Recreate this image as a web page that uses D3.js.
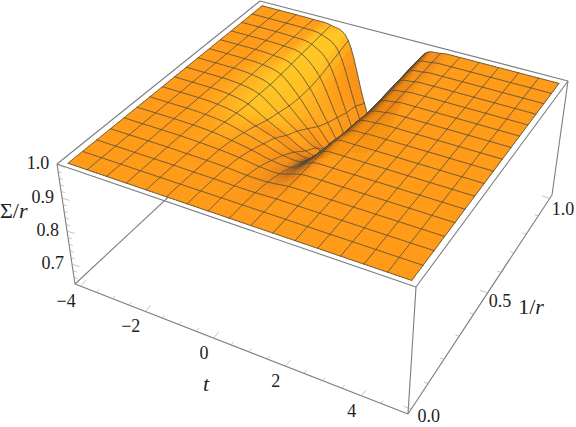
<!DOCTYPE html>
<html>
<head>
<meta charset="utf-8">
<script src="https://cdn.jsdelivr.net/npm/d3@7"></script>
<style>
  html, body { margin: 0; padding: 0; background: #fff; }
  svg { display: block; }
  text { fill: #222; }
</style>
</head>
<body>
<svg id="chart" width="576" height="427" font-family="'Liberation Serif', 'Times New Roman', Times, serif"></svg>
<script>
// mesh lines of the surface
var meshT = [-4, -3.4375, -2.875, -2.3125, -1.75, -1.1875, -0.625, -0.0625, 0.5, 1.0625, 1.625, 2.1875, 2.75, 3.3125, 3.875, 4.4375, 5];
var meshU = [0, 0.0625, 0.125, 0.1875, 0.25, 0.3125, 0.375, 0.4375, 0.5, 0.5625, 0.625, 0.6875, 0.75, 0.8125, 0.875, 0.9375, 1];

// Sigma/r, one row per meshU, one value per meshT
var row00 = [1, 1, 1, 1, 1, 1, 1, 1, 1, 1, 1, 1, 1, 1, 1, 1, 1];
var row01 = [1, 1, 1, 1, 1, 1, 1, 1, 1, 1, 1, 1, 1, 1, 1, 1, 1];
var row02 = [1, 1, 1, 1, 1, 0.999, 0.999, 0.998, 0.998, 1, 1, 1, 1, 1, 1, 1, 1];
var row03 = [1, 1, 1, 1, 0.999, 0.998, 0.996, 0.992, 0.992, 0.999, 1, 1, 1, 1, 1, 1, 1];
var row04 = [1, 1, 1, 1, 0.998, 0.995, 0.99, 0.982, 0.98, 0.998, 1, 1, 1, 1, 1, 1, 1];
var row05 = [1, 1, 1, 0.999, 0.996, 0.988, 0.978, 0.965, 0.963, 0.997, 1, 1, 1, 1, 1, 1, 1];
var row06 = [1, 1, 1, 0.998, 0.992, 0.978, 0.962, 0.945, 0.945, 0.995, 1, 1, 1, 1, 1, 1, 1];
var row07 = [1, 1, 1, 0.997, 0.987, 0.965, 0.945, 0.92, 0.92, 0.993, 1, 1, 1, 1, 1, 1, 1];
var row08 = [1, 1, 1, 0.996, 0.983, 0.95, 0.92, 0.89, 0.89, 0.985, 0.999, 1, 1, 1, 1, 1, 1];
var row09 = [1, 1, 1, 0.996, 0.982, 0.94, 0.9, 0.865, 0.87, 0.98, 0.998, 1, 1, 1, 1, 1, 1];
var row10 = [1, 1, 1, 0.996, 0.98, 0.93, 0.875, 0.825, 0.84, 0.972, 0.997, 1, 1, 1, 1, 1, 1];
var row11 = [1, 1, 1, 0.997, 0.982, 0.925, 0.85, 0.79, 0.82, 0.97, 0.997, 1, 1, 1, 1, 1, 1];
var row12 = [1, 1, 1, 0.997, 0.985, 0.925, 0.83, 0.755, 0.815, 0.97, 0.997, 1, 1, 1, 1, 1, 1];
var row13 = [1, 1, 1, 0.998, 0.988, 0.93, 0.815, 0.72, 0.805, 0.97, 0.997, 1, 1, 1, 1, 1, 1];
var row14 = [1, 1, 1, 0.998, 0.99, 0.94, 0.8, 0.69, 0.8, 0.97, 0.997, 1, 1, 1, 1, 1, 1];
var row15 = [1, 1, 1, 0.999, 0.993, 0.95, 0.79, 0.665, 0.8, 0.97, 0.997, 1, 1, 1, 1, 1, 1];
var row16 = [1, 1, 1, 0.999, 0.995, 0.96, 0.77, 0.64, 0.8, 0.97, 0.997, 1, 1, 1, 1, 1, 1];
var zRows = [row00, row01, row02, row03, row04, row05, row06, row07, row08, row09, row10, row11, row12, row13, row14, row15, row16];

var tMajor = [-4, -2, 0, 2, 4];
var tMinor = [-3.5, -3, -2.5, -1.5, -1, -0.5, 0.5, 1, 1.5, 2.5, 3, 3.5, 4.5];
var uMajor = [0, 0.5, 1];
var uMinor = [0.1, 0.2, 0.3, 0.4, 0.6, 0.7, 0.8, 0.9];
var zMajor = [1, 0.9, 0.8, 0.7];
var zMinor = [0.98, 0.96, 0.94, 0.92, 0.88, 0.86, 0.84, 0.82, 0.78, 0.76, 0.74, 0.72, 0.68, 0.66];

var svg = d3.select("#chart");

var tScale = d3.scaleLinear().domain([-4.18, 5.18]).range([0, 1]);
var uScale = d3.scaleLinear().domain([-0.02, 1.02]).range([0, 1]);
var zScale = d3.scaleLinear().domain([0.64, 1.003]).range([0, 1]);

// unit square to quad, corners are (0,0) (1,0) (1,1) (0,1)
function quadMap(p0, p1, p2, p3) {
  var dx1 = p1[0] - p2[0], dx2 = p3[0] - p2[0], sx = p0[0] - p1[0] + p2[0] - p3[0];
  var dy1 = p1[1] - p2[1], dy2 = p3[1] - p2[1], sy = p0[1] - p1[1] + p2[1] - p3[1];
  var det = dx1 * dy2 - dx2 * dy1;
  var g = (sx * dy2 - dx2 * sy) / det;
  var h = (dx1 * sy - sx * dy1) / det;
  var a = p1[0] - p0[0] + g * p1[0], b = p3[0] - p0[0] + h * p3[0];
  var d = p1[1] - p0[1] + g * p1[1], e = p3[1] - p0[1] + h * p3[1];
  return function (x, y) {
    var w = g * x + h * y + 1;
    return [(a * x + b * y + p0[0]) / w, (d * x + e * y + p0[1]) / w];
  };
}

var topPlane = quadMap([57, 164], [416, 287], [568, 81], [260, 1]);
var botPlane = quadMap([75, 284], [408, 414], [552, 195], [263, 109]);

function project(t, u, z) {
  var a = topPlane(tScale(t), uScale(u));
  var b = botPlane(tScale(t), uScale(u));
  var k = zScale(z);
  return [b[0] + (a[0] - b[0]) * k, b[1] + (a[1] - b[1]) * k];
}

// box
var tA = tScale.domain()[0], tB = tScale.domain()[1];
var uA = uScale.domain()[0], uB = uScale.domain()[1];
var zA = zScale.domain()[0], zB = zScale.domain()[1];
var boxEdges = [
  [tA, uA, zB, tB, uA, zB], [tB, uA, zB, tB, uB, zB], [tB, uB, zB, tA, uB, zB], [tA, uB, zB, tA, uA, zB],
  [tA, uA, zA, tB, uA, zA], [tB, uA, zA, tB, uB, zA], [tA, uB, zA, tA, uA, zA],
  [tA, uA, zA, tA, uA, zB], [tB, uA, zA, tB, uA, zB], [tB, uB, zA, tB, uB, zB]
];
var line = d3.line();
svg.append("g").selectAll("path").data(boxEdges).enter().append("path")
  .attr("d", (d) => line([project(d[0], d[1], d[2]), project(d[3], d[4], d[5])]))
  .attr("fill", "none").attr("stroke", "#7d7d7d").attr("stroke-width", 1.1);

// ticks
var ticks = svg.append("g").attr("stroke", "#aaa").attr("stroke-width", 0.7);
function addTicks(list, from, dir, len) {
  list.forEach((v) => {
    var a = from(v);
    var b = [a[0] + dir[0] * len, a[1] + dir[1] * len];
    ticks.append("path").attr("d", line([a, b]));
  });
}
var tFrom = (v) => project(v, uA, zA);
var uFrom = (v) => project(tB, v, zA);
var zFrom = (v) => project(tA, uA, v);
addTicks(tMajor, tFrom, [0.66, -0.75], 8);
addTicks(tMinor, tFrom, [0.66, -0.75], 4);
addTicks(uMajor, uFrom, [-0.95, -0.3], 8);
addTicks(uMinor, uFrom, [-0.95, -0.3], 4);
addTicks(zMajor, zFrom, [0.95, 0.3], 8);
addTicks(zMinor, zFrom, [0.95, 0.3], 4);

// tick labels
var fmtMinus = (v) => String(v).replace("-", "\u2212");
var labels = svg.append("g").attr("font-size", 18);
tMajor.forEach((v) => {
  var p = tFrom(v);
  labels.append("text").attr("x", p[0] - 5).attr("y", p[1] + 21).attr("text-anchor", "end").text(fmtMinus(v));
});
var uDx = [6, 1, 2], uDy = [13, 14, 17];
uMajor.forEach((v, i) => {
  var p = uFrom(v);
  labels.append("text").attr("x", p[0] + uDx[i]).attr("y", p[1] + uDy[i]).text(v.toFixed(1));
});
zMajor.forEach((v) => {
  var p = zFrom(v);
  labels.append("text").attr("x", p[0] - 8).attr("y", p[1] + 4.5).attr("text-anchor", "end").text(v.toFixed(1));
});

// axis titles
var title = svg.append("g").attr("font-size", 22);
title.append("text").attr("x", 206).attr("y", 391).attr("text-anchor", "middle").attr("font-style", "italic").text("t");
var t1 = title.append("text").attr("x", 531).attr("y", 314).attr("text-anchor", "middle");
t1.append("tspan").text("1/");
t1.append("tspan").attr("font-style", "italic").text("r");
var t2 = title.append("text").attr("x", 0).attr("y", 218);
t2.append("tspan").text("\u03a3/");
t2.append("tspan").attr("font-style", "italic").text("r");

// smooth the table between mesh lines for painting
var sub = 6;
function cr(a, b, c, d, f) {
  return b + 0.5 * f * (c - a + f * (2 * a - 5 * b + 4 * c - d + f * (3 * (b - c) + d - a)));
}
var clampI = (i) => Math.max(0, Math.min(16, i));
function zAt(x, y) {
  var i = Math.min(15, Math.floor(x)), j = Math.min(15, Math.floor(y));
  var fx = x - i, fy = y - j;
  var col = [];
  for (var m = -1; m <= 2; m++) {
    var r = zRows[clampI(j + m)];
    col.push(cr(r[clampI(i - 1)], r[i], r[clampI(i + 1)], r[clampI(i + 2)], fx));
  }
  return Math.min(1, cr(col[0], col[1], col[2], col[3], fy));
}
var count = 16 * sub;
var grid = d3.range(count + 1).map((j) => d3.range(count + 1).map((i) => zAt(i / sub, j / sub)));
var tFine = d3.scaleLinear().domain([0, count]).range([meshT[0], meshT[16]]);
var uFine = d3.scaleLinear().domain([0, count]).range([meshU[0], meshU[16]]);

// light on the normals, box coordinates
var light = [0.55, -0.3, 0.78];
var zAspect = 0.4;
function shade(i, j) {
  var x0 = Math.max(0, i - 1), x1 = Math.min(count, i + 1);
  var y0 = Math.max(0, j - 1), y1 = Math.min(count, j + 1);
  var dx = (zScale(grid[j][x1]) - zScale(grid[j][x0])) * zAspect / (tScale(tFine(x1)) - tScale(tFine(x0)));
  var dy = (zScale(grid[y1][i]) - zScale(grid[y0][i])) * zAspect / (uScale(uFine(y1)) - uScale(uFine(y0)));
  var len = Math.sqrt(dx * dx + dy * dy + 1);
  return (-dx * light[0] - dy * light[1] + light[2]) / len;
}
var color = d3.scaleLinear()
  .domain([0.15, 0.4, 0.62, 0.78, 0.86, 0.95])
  .range(["#4f4030", "#a5651f", "#e88212", "#ff9812", "#ffb01a", "#ffc41e"])
  .clamp(true);

// back to front, each quad paints over what is behind it, mesh goes after both neighbours
var surface = svg.append("g").attr("stroke-linejoin", "round");
var meshColor = "#4a4a40";
function pt(i, j) { return project(tFine(i), uFine(j), grid[j][i]); }
function addMesh(a, b) {
  surface.append("path").attr("d", line([a, b])).attr("fill", "none")
    .attr("stroke", meshColor).attr("stroke-width", 0.75).attr("stroke-linecap", "round");
}
for (var j = count - 1; j >= 0; j--) {
  for (var i = 0; i < count; i++) {
    var a = pt(i, j), b = pt(i + 1, j), c = pt(i + 1, j + 1), d = pt(i, j + 1);
    var s = (shade(i, j) + shade(i + 1, j) + shade(i + 1, j + 1) + shade(i, j + 1)) / 4;
    var fill = color(s);
    surface.append("path").attr("d", line([a, b, c, d]) + "Z").attr("fill", fill).attr("stroke", fill).attr("stroke-width", 0.5);
    if ((j + 1) % sub === 0) addMesh(d, c);
    if (i % sub === 0) addMesh(a, d);
    if (i === count - 1) addMesh(b, c);
    if (j === 0) addMesh(a, b);
  }
}
</script>
</body>
</html>
